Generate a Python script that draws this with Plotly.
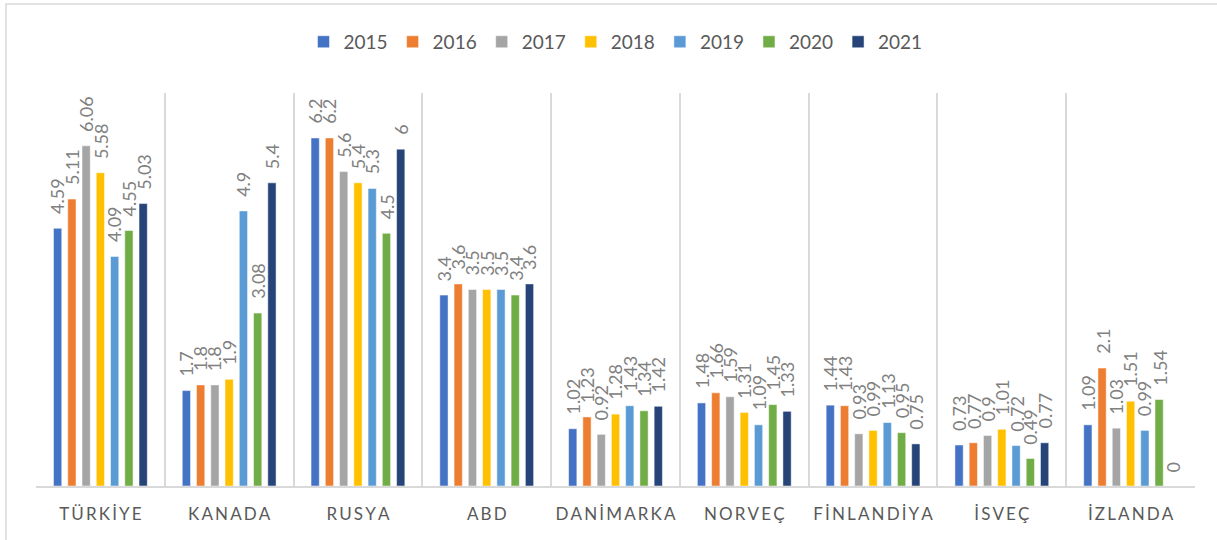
import plotly.graph_objects as go

# Countries on the category axis
countries = ["TÜRKİYE", "KANADA", "RUSYA", "ABD", "DANİMARKA",
             "NORVEÇ", "FİNLANDİYA", "İSVEÇ", "İZLANDA"]

years = ["2015", "2016", "2017", "2018", "2019", "2020", "2021"]

# One list per year, in country order
v2015 = [4.59, 1.7, 6.2, 3.4, 1.02, 1.48, 1.44, 0.73, 1.09]
v2016 = [5.11, 1.8, 6.2, 3.6, 1.23, 1.66, 1.43, 0.77, 2.1]
v2017 = [6.06, 1.8, 5.6, 3.5, 0.92, 1.59, 0.93, 0.9, 1.03]
v2018 = [5.58, 1.9, 5.4, 3.5, 1.28, 1.31, 0.99, 1.01, 1.51]
v2019 = [4.09, 4.9, 5.3, 3.5, 1.43, 1.09, 1.13, 0.72, 0.99]
v2020 = [4.55, 3.08, 4.5, 3.4, 1.34, 1.45, 0.95, 0.49, 1.54]
v2021 = [5.03, 5.4, 6.0, 3.6, 1.42, 1.33, 0.75, 0.77, 0]

series = [v2015, v2016, v2017, v2018, v2019, v2020, v2021]
colors = ["#4472C4", "#ED7D31", "#A5A5A5", "#FFC000",
          "#5B9BD5", "#70AD47", "#264478"]

FONT = "Lato"
BARGAP = 0.225
BARGROUPGAP = 0.42


def spaced(word):
    # letter-spaced category label
    return "\u2009".join(word)


def fmt(v):
    return f"{v:g}"


fig = go.Figure()
for year, vals, col in zip(years, series, colors):
    fig.add_trace(go.Bar(
        name=year,
        x=countries,
        y=vals,
        marker=dict(color=col, line=dict(color="white", width=0.5)),
        cliponaxis=False,
    ))

# Rotated value labels sitting above each bar of the group
n = len(series)
group_w = 1 - BARGAP
slot = group_w / n
labels = []
for k, vals in enumerate(series):
    for i, v in enumerate(vals):
        labels.append(dict(
            x=i - group_w / 2 + slot * (k + 0.5),
            y=v,
            xref="x", yref="y",
            text=fmt(v),
            textangle=-90,
            showarrow=False,
            xanchor="center",
            yanchor="bottom",
            yshift=13,
            borderpad=0,
            font=dict(family=FONT, size=18, color="#808080"),
        ))

fig.update_layout(
    width=1217,
    height=540,
    margin=dict(l=36, r=22, t=93, b=54, autoexpand=False),
    paper_bgcolor="white",
    plot_bgcolor="white",
    barmode="group",
    bargap=BARGAP,
    bargroupgap=BARGROUPGAP,
    font=dict(family=FONT, color="#595959"),
    legend=dict(
        orientation="h",
        x=0.5, xanchor="center",
        y=1.13, yanchor="middle",
        font=dict(family=FONT, size=19, color="#595959"),
        itemclick=False,
    ),
    xaxis=dict(
        tickmode="array",
        tickvals=countries,
        ticktext=[spaced(c) for c in countries],
        tickangle=0,
        tickson="boundaries",
        ticks="",
        showgrid=True,
        gridcolor="#d9d9d9",
        gridwidth=1.5,
        showline=True,
        linecolor="#d9d9d9",
        linewidth=2,
        tickfont=dict(family=FONT, size=17, color="#595959"),
        ticklabelstandoff=12,
    ),
    yaxis=dict(
        range=[0, 7],
        visible=False,
        showgrid=False,
    ),
    annotations=labels,
    shapes=[dict(
        type="rect", xref="paper", yref="paper",
        x0=-0.0259, x1=1.5, y0=-0.6, y1=1.2265,
        line=dict(color="#d9d9d9", width=1.5),
        fillcolor="rgba(0,0,0,0)",
        layer="below",
    )],
)

fig.write_html("out.html")
